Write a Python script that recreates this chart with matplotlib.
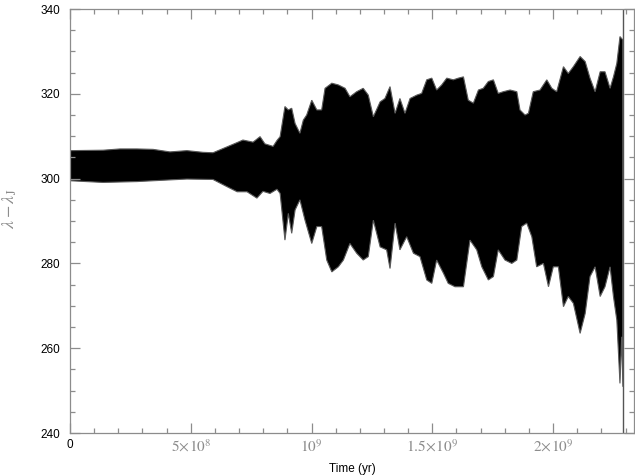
import numpy as np
import matplotlib
matplotlib.use("Agg")
import matplotlib.pyplot as plt
from matplotlib.ticker import MultipleLocator, FixedFormatter, FixedLocator

plt.rcParams['mathtext.fontset'] = 'stix'

# envelope of the oscillating band (time in units of 1e9 yr)
t_upper = [0.000, 0.137, 0.207, 0.277, 0.344, 0.414, 0.484, 0.551, 0.592, 0.634,
           0.692, 0.716, 0.758, 0.787, 0.807, 0.841, 0.857,
           0.870, 0.890, 0.904, 0.918, 0.932, 0.952, 0.966, 0.980, 1.001, 1.022,
           1.042, 1.056, 1.084, 1.111, 1.139, 1.159, 1.187, 1.214, 1.235, 1.256,
           1.284, 1.304, 1.325, 1.346, 1.366, 1.387, 1.408, 1.436, 1.456, 1.477,
           1.498, 1.518, 1.539, 1.560, 1.587, 1.608, 1.629, 1.649, 1.670, 1.691,
           1.711, 1.732, 1.753, 1.773, 1.794, 1.822, 1.850, 1.863, 1.884, 1.898,
           1.918, 1.946, 1.974, 1.995, 2.015, 2.043, 2.063, 2.084, 2.112, 2.133,
           2.153, 2.174, 2.195, 2.215, 2.236, 2.250, 2.264, 2.277, 2.289]
v_upper = [306.6, 306.7, 307.0, 307.0, 306.9, 306.3, 306.6, 306.2, 306.1, 307.1,
           308.5, 309.1, 308.6, 309.9, 308.2, 307.6, 309.0,
           309.9, 317.0, 316.2, 316.6, 313.0, 310.7, 313.8, 315.0, 318.5, 316.2,
           316.2, 321.3, 322.5, 322.1, 321.3, 319.3, 320.5, 321.3, 319.7, 314.6,
           318.1, 318.9, 321.7, 315.4, 318.9, 315.4, 318.9, 319.7, 320.1, 323.3,
           323.7, 320.9, 322.1, 323.7, 323.3, 323.7, 324.0, 318.5, 317.8, 320.9,
           321.3, 322.9, 323.3, 320.1, 320.5, 320.9, 320.5, 316.2, 315.0, 315.4,
           320.5, 320.9, 323.3, 321.3, 320.5, 326.4, 324.8, 326.4, 328.8, 327.6,
           323.7, 320.5, 325.2, 325.2, 321.3, 324.0, 327.2, 333.5, 332.7]

t_lower = [0.000, 0.137, 0.277, 0.414, 0.484, 0.592, 0.650, 0.692, 0.733, 0.774,
           0.799, 0.828, 0.857,
           0.870, 0.890, 0.904, 0.918, 0.932, 0.952, 0.973, 1.001, 1.022, 1.042,
           1.063, 1.084, 1.111, 1.132, 1.159, 1.187, 1.214, 1.235, 1.256, 1.284,
           1.311, 1.325, 1.346, 1.366, 1.394, 1.422, 1.449, 1.477, 1.498, 1.518,
           1.546, 1.566, 1.594, 1.629, 1.656, 1.684, 1.705, 1.732, 1.753, 1.773,
           1.801, 1.829, 1.850, 1.870, 1.891, 1.912, 1.932, 1.960, 1.981, 2.001,
           2.022, 2.043, 2.063, 2.084, 2.112, 2.133, 2.153, 2.174, 2.195, 2.215,
           2.236, 2.250, 2.264, 2.277, 2.284, 2.289]
v_lower = [299.5, 299.1, 299.3, 299.7, 299.9, 299.8, 298.1, 296.9, 296.9, 295.4,
           297.0, 296.5, 297.5,
           296.5, 285.5, 291.8, 287.1, 292.6, 295.0, 290.2, 284.7, 288.7, 288.7,
           280.8, 278.0, 279.2, 280.8, 284.7, 282.4, 280.8, 281.6, 290.2, 283.9,
           283.2, 278.8, 289.5, 283.2, 286.3, 282.4, 281.6, 276.1, 275.3, 280.8,
           277.7, 275.3, 274.5, 274.5, 285.5, 283.2, 279.2, 276.1, 276.9, 283.2,
           280.8, 280.0, 280.8, 288.7, 289.5, 286.3, 279.2, 280.0, 274.5, 279.2,
           279.2, 269.8, 272.2, 270.6, 263.5, 268.2, 276.9, 279.2, 272.2, 274.5,
           279.2, 272.2, 266.6, 251.7, 262.7, 250.9]

t_end = 2.290
x_ticks = [0, 0.5, 1.0, 1.5, 2.0]
x_labels = ['0', r'$5\!\times\!10^{8}$', r'$10^{9}$', r'$1.5\!\times\!10^{9}$', r'$2\!\times\!10^{9}$']
y_ticks = [240, 260, 280, 300, 320, 340]

fig = plt.figure(figsize=(6.35, 4.75), dpi=100)
ax = fig.add_axes([0.1102, 0.0884, 0.8882, 0.8926])

# band polygon: upper envelope forward, lower envelope back
poly_t = np.concatenate([t_upper, t_lower[::-1]]) * 1e9
poly_v = np.concatenate([v_upper, v_lower[::-1]])
ax.fill(poly_t, poly_v, facecolor='black', edgecolor='#5a5a5a', linewidth=0.8)
ax.axvline(t_end * 1e9, color='#555555', linewidth=1.0)

ax.set_xlim(0, 2.335e9)
ax.set_ylim(240, 340)

gray = '#8c8c8c'
for s in ax.spines.values():
    s.set_color(gray)
    s.set_linewidth(0.9)

ax.xaxis.set_major_locator(FixedLocator([v * 1e9 for v in x_ticks]))
ax.xaxis.set_major_formatter(FixedFormatter(x_labels))
ax.xaxis.set_minor_locator(MultipleLocator(1e8))
ax.yaxis.set_major_locator(FixedLocator(y_ticks))
ax.yaxis.set_minor_locator(MultipleLocator(5))

ax.tick_params(which='both', direction='in', top=True, right=True, color=gray, width=0.9)
ax.tick_params(which='major', length=7)
ax.tick_params(which='minor', length=3.5)
ax.tick_params(axis='y', labelsize=8.5, pad=7)
ax.tick_params(axis='x', labelsize=11, labelcolor=gray, pad=4)
for lab in ax.get_yticklabels():
    lab.set_fontfamily('Liberation Sans')
xl = ax.get_xticklabels()
xl[0].set_color('black')
xl[0].set_fontfamily('Liberation Sans')
xl[0].set_fontsize(8.5)

ax.set_xlabel('Time (yr)', fontsize=8.5, fontfamily='Liberation Sans', labelpad=6)
ax.set_ylabel(r'$\lambda - \lambda_{\rm J}$', fontsize=13, color=gray)
ax.yaxis.set_label_coords(-0.09, 0.53)

fig.savefig('out.png', dpi=100)
